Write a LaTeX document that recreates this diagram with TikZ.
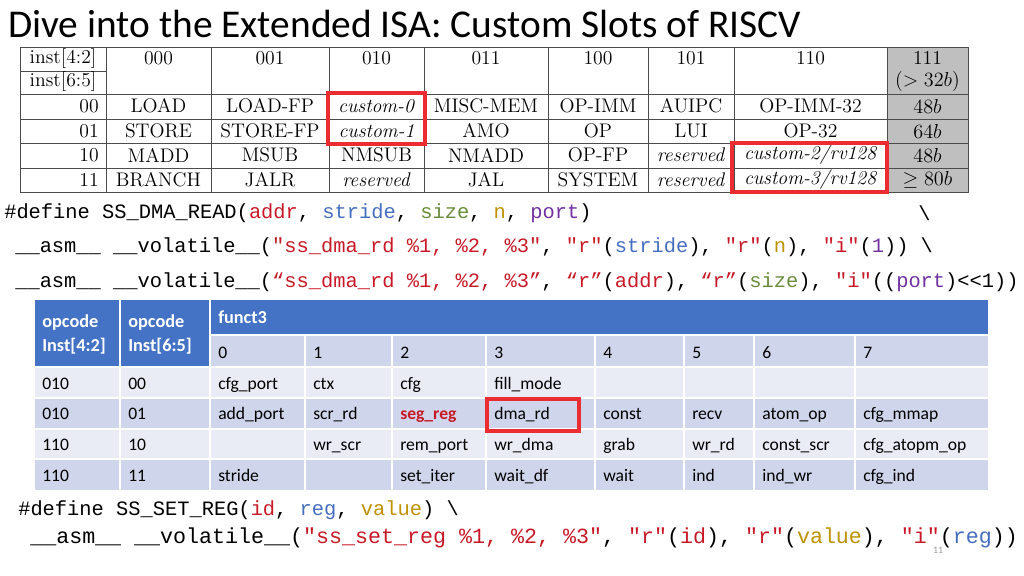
\documentclass[tikz,border=0pt]{standalone}
\usepackage{fontspec}
\usepackage{xcolor}
\usepackage{amsmath}
\usepackage{amssymb}
\setmainfont{Carlito}
\setmonofont{Liberation Mono}
\newfontfamily\lmfont{Latin Modern Roman}
\definecolor{cred}{RGB}{200,25,40}
\definecolor{cblue}{RGB}{70,110,190}
\definecolor{cgreen}{RGB}{105,140,60}
\definecolor{cgold}{RGB}{190,145,0}
\definecolor{cpurple}{RGB}{112,48,160}
\definecolor{hdblue}{RGB}{68,114,196}
\definecolor{rowdark}{RGB}{207,213,234}
\definecolor{rowlight}{RGB}{233,235,245}
\definecolor{boxred}{RGB}{235,45,50}
\newcommand{\Rd}[1]{\textcolor{cred}{#1}}
\newcommand{\Bl}[1]{\textcolor{cblue}{#1}}
\newcommand{\Gr}[1]{\textcolor{cgreen}{#1}}
\newcommand{\Gd}[1]{\textcolor{cgold}{#1}}
\newcommand{\Pu}[1]{\textcolor{cpurple}{#1}}
\tikzset{
  isagrid/.style={draw=black!70, line width=0.6pt},
  isatext/.style={font=\lmfont\fontsize{14}{15}\selectfont, inner sep=0pt},
  codeline/.style={anchor=west, inner sep=0pt, font=\ttfamily\fontsize{14.5}{16}\selectfont},
  celltext/.style={anchor=base west, inner sep=0pt, font=\fontsize{12.5}{14}\selectfont},
  redbox/.style={draw=boxred, line width=2.6pt}
}
\begin{document}
\begin{tikzpicture}[x=0.025cm, y=-0.025cm]
  \useasboundingbox (0,0) rectangle (1024,576);

  % Title
  \node[anchor=west, inner sep=0pt, font=\fontsize{28}{30}\selectfont] (title) at (8,24) {Dive into the Extended ISA: Custom Slots of RISCV};

  % Opcode map
  \fill[black!25] (887,47) rectangle (968,192);
  \draw[isagrid] (20,47) rectangle (968,192);
  \foreach \x in {106,211,329,424,548,648,734,887}
    \draw[isagrid] (\x,47) -- (\x,192);
  \foreach \y in {94,119,143,168}
    \draw[isagrid] (20,\y) -- (968,\y);
  \draw[isagrid] (20,71) -- (106,71);
  \node[isatext] (ia) at (63,59) {inst[4:2]};
  \node[isatext] (ib) at (63,82) {inst[6:5]};
  \foreach \t/\cx [count=\i] in {000/158.5,001/270,010/376.5,011/486,100/598,101/691,110/810.5}
    \node[isatext] (hd\i) at (\cx,58) {\t};
  \node[isatext] (hd8) at (927.5,58) {111};
  \node[isatext] (hd8b) at (927.5,81) {$(>32b)$};
  \foreach \r/\y/\a/\b/\c/\d/\e/\f/\g/\h in {
      00/106/LOAD/LOAD-FP/\textit{custom-0}/MISC-MEM/OP-IMM/AUIPC/OP-IMM-32/$48b$,
      01/131/STORE/STORE-FP/\textit{custom-1}/AMO/OP/LUI/OP-32/$64b$,
      10/155/MADD/MSUB/NMSUB/NMADD/OP-FP/\textit{reserved}/\textit{custom-2/rv128}/$48b$,
      11/180/BRANCH/JALR/\textit{reserved}/JAL/SYSTEM/\textit{reserved}/\textit{custom-3/rv128}/$\geq 80b$} {
    \node[isatext, anchor=east] (rw\r) at (99,\y) {\r};
    \node[isatext] (ca\r) at (158.5,\y) {\a};
    \node[isatext] (cb\r) at (270,\y) {\b};
    \node[isatext] (cc\r) at (376.5,\y) {\c};
    \node[isatext] (cd\r) at (486,\y) {\d};
    \node[isatext] (ce\r) at (598,\y) {\e};
    \node[isatext] (cf\r) at (691,\y) {\f};
    \node[isatext] (cg\r) at (810.5,\y) {\g};
    \node[isatext] (ch\r) at (927.5,\y) {\h};
  }
  \draw[redbox] (328,93) rectangle (425,144);
  \draw[redbox] (732,143) rectangle (887,192);

  % SS_DMA_READ
  \node[codeline] (cl1) at (4,213) {\#define SS\_DMA\_READ(\Rd{addr}, \Bl{stride}, \Gr{size}, \Gd{n}, \Pu{port})};
  \node[codeline] (cl1e) at (918,213) {\textbackslash};
  \node[codeline] (cl2) at (15,247) {\_\_asm\_\_ \_\_volatile\_\_(\Rd{"ss\_dma\_rd \%1, \%2, \%3"}, \Rd{"r"}(\Bl{stride}), \Rd{"r"}(\Gd{n}), \Rd{"i"}(\Pu{1})) \textbackslash};
  \node[codeline] (cl3) at (15,282) {\_\_asm\_\_ \_\_volatile\_\_(\Rd{“ss\_dma\_rd \%1, \%2, \%3”}, \Rd{“r”}(\Rd{addr}), \Rd{“r”}(\Gr{size}), \Rd{"i"}((\Pu{port})<{}<1))};

  % funct3 table
  \fill[hdblue] (35,300) rectangle (210,367);
  \fill[hdblue] (210,300) rectangle (988,335);
  \fill[rowdark] (210,335) rectangle (988,367);
  \fill[rowlight] (35,367) rectangle (988,398);
  \fill[rowdark] (35,398) rectangle (988,429);
  \fill[rowlight] (35,429) rectangle (988,459);
  \fill[rowdark] (35,459) rectangle (988,490);
  \foreach \x in {120,210}
    \draw[white, line width=1.5pt] (\x,300) -- (\x,490);
  \foreach \x in {305,392,486,595,684,754,855}
    \draw[white, line width=1.5pt] (\x,335) -- (\x,490);
  \draw[white, line width=1.5pt] (210,335) -- (988,335);
  \foreach \y in {367,398,429,459}
    \draw[white, line width=1.5pt] (35,\y) -- (988,\y);
  \node[anchor=west, inner sep=0pt, text=white, font=\bfseries\fontsize{13}{17}\selectfont, align=left] (oa) at (42,334) {opcode\\Inst[4:2]};
  \node[anchor=west, inner sep=0pt, text=white, font=\bfseries\fontsize{13}{17}\selectfont, align=left] (ob) at (128,334) {opcode\\Inst[6:5]};
  \node[celltext, text=white, font=\bfseries\fontsize{13}{14}\selectfont] (fn) at (218,324) {funct3};
  \foreach \k/\x in {0/218,1/313,2/400,3/494,4/603,5/692,6/762,7/863}
    \node[celltext] (fk\k) at (\x,358) {\k};
  \foreach \r/\y/\p/\q/\a/\b/\c/\d/\e/\f/\g/\h in {
      1/389/010/00/cfg\_port/ctx/cfg/fill\_mode/{}/{}/{}/{},
      2/419/010/01/add\_port/scr\_rd/\textcolor{cred}{\textbf{seg\_reg}}/dma\_rd/const/recv/atom\_op/cfg\_mmap,
      3/450/110/10/{}/wr\_scr/rem\_port/wr\_dma/grab/wr\_rd/const\_scr/cfg\_atopm\_op,
      4/481/110/11/stride/{}/set\_iter/wait\_df/wait/ind/ind\_wr/cfg\_ind} {
    \node[celltext] (op\r) at (42,\y) {\p};
    \node[celltext] (oq\r) at (128,\y) {\q};
    \node[celltext] (t0\r) at (218,\y) {\a};
    \node[celltext] (t1\r) at (313,\y) {\b};
    \node[celltext] (t2\r) at (400,\y) {\c};
    \node[celltext] (t3\r) at (494,\y) {\d};
    \node[celltext] (t4\r) at (603,\y) {\e};
    \node[celltext] (t5\r) at (692,\y) {\f};
    \node[celltext] (t6\r) at (762,\y) {\g};
    \node[celltext] (t7\r) at (863,\y) {\h};
  }
  \draw[redbox] (487,399) rectangle (579,431);

  % SS_SET_REG
  \node[codeline] (cl4) at (18,510) {\#define SS\_SET\_REG(\Rd{id}, \Bl{reg}, \Gd{value}) \textbackslash};
  \node[codeline, font=\ttfamily\fontsize{15.4}{17}\selectfont] (cl5) at (30,538) {\_\_asm\_\_ \_\_volatile\_\_(\Rd{"ss\_set\_reg \%1, \%2, \%3"}, \Rd{"r"}(\Rd{id}), \Rd{"r"}(\Gd{value}), \Rd{"i"}(\Bl{reg}))};

  % page number
  \node[inner sep=0pt, text=black!40, font=\fontsize{7}{8}\selectfont] (pg) at (938,550) {11};
\end{tikzpicture}
\end{document}
